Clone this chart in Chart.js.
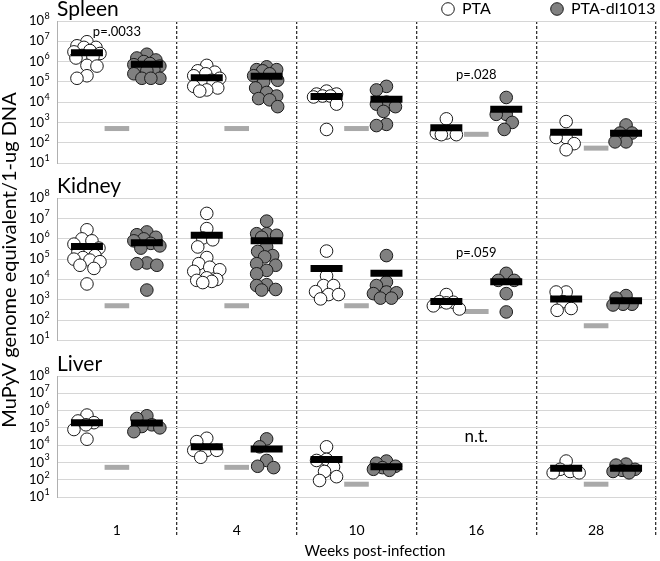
<!DOCTYPE html>
<html><head><meta charset="utf-8">
<script src="https://cdn.jsdelivr.net/npm/chart.js@4.4.0/dist/chart.umd.min.js"></script>
<style>html,body{margin:0;padding:0;background:#fff;}canvas{display:block;}</style>
</head><body>
<canvas id="c" width="660" height="561"></canvas>
<script>
// ---------- data ----------
const weeks = ['1', '4', '10', '16', '28'];
const panelNames = ['Spleen', 'Kidney', 'Liver'];
const seriesNames = ['PTA', 'PTA-dl1013'];
const yTickValues = [1e1, 1e2, 1e3, 1e4, 1e5, 1e6, 1e7, 1e8];

const spleenPTA = [
  [9.5e6, 6e6, 5e6, 5e6, 3.5e6, 3e6, 2.5e6, 2e6, 1.7e6, 1.5e6, 6.5e5, 6e5, 2e5, 1.5e5],
  [6.5e5, 3.5e5, 3e5, 2.5e5, 2e5, 1.5e5, 1.2e5, 1e5, 6e4, 5e4, 4e4, 3.5e4],
  [3.5e4, 2.5e4, 2.5e4, 2e4, 2e4, 1.8e4, 8e3, 4.5e2],
  [1.5e3, 3e2, 2.5e2, 3e2, 2.5e2],
  [1.1e3, 1.8e2, 1.8e2, 9e1, 4.5e1]
];
const spleenDL = [
  [2.3e6, 1.5e6, 1.2e6, 1e6, 8e5, 7e5, 6e5, 5e5, 4e5, 3.5e5, 2.5e5, 1.5e5, 1.5e5, 1.5e5],
  [5.5e5, 4e5, 4e5, 3.5e5, 2.5e5, 2e5, 1.2e5, 1e5, 5e4, 3e4, 2e4, 1.5e4, 1.3e4, 6e3],
  [6e4, 4e4, 1e4, 8e3, 6e3, 3.5e3, 8e2, 7e2],
  [1.7e4, 2.5e3, 2.5e3, 1e3, 4.5e2],
  [7.5e2, 3e2, 3e2, 1.1e2, 1.1e2]
];
const kidneyPTA = [
  [2.8e6, 1e6, 8e5, 5.5e5, 3.5e5, 2.5e5, 2.3e5, 1.5e5, 1.2e5, 1e5, 9e4, 7.5e4, 5e4, 3.5e4, 6e3],
  [1.8e7, 3.2e6, 1.1e6, 9e5, 4e5, 1.2e5, 6e4, 4e4, 3e4, 2.5e4, 1.2e4, 1e4, 9e3, 8e3, 7e3],
  [2.5e5, 1.5e4, 5e3, 5e3, 2.5e3, 1.8e3, 1.8e3, 1.1e3],
  [1.8e3, 8e2, 7.5e2, 7e2, 5e2, 3.5e2],
  [2.4e3, 2.4e3, 8e2, 3.7e2, 3e2]
];
const kidneyDL = [
  [2.2e6, 1.6e6, 1.2e6, 1e6, 8e5, 6e5, 4.5e5, 3.5e5, 6.5e4, 6e4, 5e4, 3e3],
  [7.5e6, 1.8e6, 1.8e6, 1.5e6, 1.2e6, 4e5, 2.4e5, 1.5e5, 1.3e5, 6e4, 5e4, 2.8e4, 1.9e4, 5.5e3, 5e3, 3.2e3, 3e3],
  [1.5e5, 7.5e3, 5e3, 2.4e3, 2.2e3, 2e3, 1.2e3, 1.2e3],
  [2e4, 9e3, 9e3, 2e3, 2.5e2],
  [1.6e3, 1.2e3, 6e2, 6e2, 5.5e2]
];
const liverPTA = [
  [5.5e5, 2.5e5, 2e5, 1.5e5, 8e4, 2.2e4],
  [2.5e4, 1.6e4, 5e3, 5e3, 5e3, 2e3],
  [8e3, 1.5e3, 1.3e3, 5.5e2, 3e2, 1.5e2, 9e1],
  [],
  [1.2e3, 4e2, 3e2, 2.5e2, 2.5e2]
];
const liverDL = [
  [5e5, 3.5e5, 1.5e5, 1.2e5, 1e5, 6e4],
  [2.3e4, 8e3, 1.3e3, 6e2, 5e2],
  [1.2e3, 9e2, 6e2, 5e2, 4e2, 3.5e2],
  [],
  [8e2, 7e2, 4e2, 3.5e2, 3e2, 2.5e2]
];

const spleenMeanPTA = [2.7e6, 1.6e5, 1.9e4, 5.4e2, 3.3e2];
const spleenMeanDL  = [7.4e5, 1.9e5, 1.4e4, 4.5e3, 2.9e2];
const kidneyMeanPTA = [4.2e5, 1.5e6, 3.5e4, 8.1e2, 1.1e3];
const kidneyMeanDL  = [6.4e5, 8.1e5, 2e4, 7.8e3, 9e2];
const liverMeanPTA  = [2e5, 8.1e3, 1.5e3, null, 4.6e2];
const liverMeanDL   = [1.9e5, 6e3, 5.6e2, null, 4.6e2];

const spleenLimit = [5e2, 5e2, 5e2, 2.6e2, 5.4e1];
const kidneyLimit = [5.1e2, 5.1e2, 5.1e2, 2.6e2, 5.2e1];
const liverLimit  = [5.2e2, 5.2e2, 5.5e1, null, 5.5e1];

const noteTexts  = ['p=.0033', 'p=.028', 'p=.059', 'n.t.'];
const notePanels = [0, 0, 1, 2];
const noteWeeks  = [0, 3, 3, 3];
const noteLevels = [2.9e7, 2.3e5, 2.1e5, 3e4];

const yTitle = 'MuPyV genome equivalent/1-ug DNA';
const xTitle = 'Weeks post-infection';

// ---------- build ----------
const FONT = 'Lato, "Open Sans", sans-serif';
Chart.defaults.font.family = FONT;
const panelIds = ['ySpleen', 'yKidney', 'yLiver'];
const ptaSets = [spleenPTA, kidneyPTA, liverPTA];
const dlSets = [spleenDL, kidneyDL, liverDL];
const meanPTA = [spleenMeanPTA, kidneyMeanPTA, liverMeanPTA];
const meanDL = [spleenMeanDL, kidneyMeanDL, liverMeanDL];
const limits = [spleenLimit, kidneyLimit, liverLimit];
const SHIFT = 0.25;

const datasets = [];
panelIds.forEach((id, p) => {
  datasets.push({
    label: 'limit', yAxisID: id, showLine: false, order: 3,
    data: limits[p].map((v, i) => v == null ? null : {x: i + 0.5, y: v}).filter(Boolean),
    pointStyle: 'line', pointRadius: 12.3, pointBorderWidth: 5, pointBorderColor: '#a9a9a9',
    borderColor: '#a9a9a9', pointHoverRadius: 12.3
  });
  [ptaSets, dlSets].forEach((sets, g) => {
    const data = [];
    sets[p].forEach((vals, i) => vals.forEach(v => data.push({x: i + 0.5 + (g ? 1 : -1) * SHIFT, y: v, week: i})));
    datasets.push({
      label: seriesNames[g], yAxisID: id, showLine: false, data, swarm: true, group: g, order: 2,
      pointStyle: 'circle', pointRadius: 6.3, pointHoverRadius: 6.3, pointBorderWidth: 1,
      pointBackgroundColor: g ? '#808080' : '#ffffff', pointBorderColor: '#1a1a1a'
    });
  });
  const mdata = [];
  meanPTA[p].forEach((v, i) => { if (v != null) mdata.push({x: i + 0.5 - SHIFT, y: v}); });
  meanDL[p].forEach((v, i) => { if (v != null) mdata.push({x: i + 0.5 + SHIFT, y: v}); });
  datasets.push({
    label: 'mean', yAxisID: id, showLine: false, data: mdata, order: 1,
    pointStyle: 'line', pointRadius: 16, pointHoverRadius: 16, pointBorderWidth: 7,
    pointBorderColor: '#000', borderColor: '#000'
  });
});

function panelAxis(weight, stackWeight) {
  return {
    type: 'logarithmic', position: 'left', stack: 'panels', stackWeight, weight,
    min: 10, max: 1e8,
    afterBuildTicks: s => { s.ticks = yTickValues.map(v => ({value: v})); },
    afterFit: s => { s.width = 57; },
    ticks: {
      autoSkip: false, color: '#000', padding: 13, font: {size: 13},
      callback: v => '10'
    },
    grid: {color: '#d6d6d6', lineWidth: 1, drawTicks: false},
    border: {display: true, color: '#b0b0b0', width: 1}
  };
}
function spacerAxis(weight, stackWeight) {
  return {
    type: 'linear', position: 'left', stack: 'panels', stackWeight, weight, min: 0, max: 1,
    afterFit: s => { s.width = 57; },
    ticks: {display: false}, grid: {display: false, drawTicks: false}, border: {display: false}
  };
}

const xTickValues = [0, 0.5, 1, 1.5, 2, 2.5, 3, 3.5, 4, 4.5, 5];
const isBoundary = c => c.tick && c.tick.value > 0 && Math.abs(c.tick.value % 1) < 1e-6;

const textPlugin = {
  id: 'texts',
  afterDraw(chart) {
    const ctx = chart.ctx, xs = chart.scales.x;
    ctx.save();
    ctx.fillStyle = '#000';
    // exponents of the y tick labels
    ctx.font = '9px ' + FONT; ctx.textAlign = 'left'; ctx.textBaseline = 'middle';
    panelIds.forEach(id => {
      const s = chart.scales[id];
      s.ticks.forEach(t => ctx.fillText(String(Math.round(Math.log10(t.value))), s.right - 12.5, s.getPixelForValue(t.value) - 5));
    });
    ctx.font = '21px ' + FONT; ctx.textAlign = 'left'; ctx.textBaseline = 'alphabetic';
    panelIds.forEach((id, i) => { const s = chart.scales[id]; ctx.fillText(panelNames[i], s.right, s.top - 5); });
    ctx.textAlign = 'center'; ctx.textBaseline = 'middle';
    noteTexts.forEach((t, i) => {
      ctx.font = (t === 'n.t.' ? '17px ' : '13px ') + FONT;
      ctx.fillText(t, xs.getPixelForValue(noteWeeks[i] + 0.5), chart.scales[panelIds[notePanels[i]]].getPixelForValue(noteLevels[i]));
    });
    ctx.font = '16px ' + FONT; ctx.textAlign = 'left';
    const legX = [448, 557], legFill = ['#ffffff', '#808080'];
    seriesNames.forEach((n, i) => {
      ctx.beginPath(); ctx.arc(legX[i], 9, 6.3, 0, Math.PI * 2);
      ctx.fillStyle = legFill[i]; ctx.fill(); ctx.lineWidth = 1; ctx.strokeStyle = '#1a1a1a'; ctx.stroke();
      ctx.fillStyle = '#000'; ctx.fillText(n, legX[i] + 14, 9);
    });
    ctx.font = '15px ' + FONT; ctx.textAlign = 'center';
    ctx.fillText(xTitle, 375, 551);
    ctx.translate(10, 260); ctx.rotate(-Math.PI / 2);
    ctx.font = '20px ' + FONT;
    ctx.fillText(yTitle, 0, 0);
    ctx.restore();
  }
};

const chart = new Chart(document.getElementById('c'), {
  type: 'scatter',
  data: {datasets},
  options: {
    responsive: false, animation: false, devicePixelRatio: 1,
    layout: {autoPadding: false, padding: {top: 21, right: 4, bottom: 0, left: 0}},
    plugins: {legend: {display: false}, tooltip: {enabled: false}},
    events: [],
    scales: {
      x: {
        type: 'linear', position: 'bottom', min: 0, max: 5,
        afterBuildTicks: s => { s.ticks = xTickValues.map(v => ({value: v})); },
        afterFit: s => { s.height = 64; },
        ticks: {
          autoSkip: false, maxRotation: 0, color: '#000', font: {size: 14}, padding: -13,
          callback: v => (Math.abs(v % 1 - 0.5) < 1e-6) ? weeks[Math.floor(v)] : ''
        },
        grid: {
          drawTicks: true, tickLength: 38, lineWidth: 1.3,
          color: c => isBoundary(c) ? '#333333' : 'rgba(0,0,0,0)',
          tickColor: c => isBoundary(c) ? '#333333' : 'rgba(0,0,0,0)',
          tickBorderDash: [3, 2]
        },
        border: {display: false, dash: [3, 2]}
      },
      ySpleen: panelAxis(6, 142),
      gap1: spacerAxis(5, 35.3),
      yKidney: panelAxis(4, 142),
      gap2: spacerAxis(3, 35.7),
      yLiver: panelAxis(2, 121)
    }
  },
  plugins: [textPlugin]
});

// beeswarm layout of points around each group's centre (computed from values)
function swarm(py, d, maxOff) {
  const order = py.map((_, i) => i).sort((a, b) => py[a] - py[b]);
  const placed = [], offs = new Array(py.length).fill(0);
  order.forEach(i => {
    let chosen = null, bestScore = -1, bestO = 0;
    for (let k = 0; k <= 2 * maxOff; k++) {
      const o = (k % 2 ? -1 : 1) * Math.ceil(k / 2);
      let minD = Infinity;
      for (const p of placed) minD = Math.min(minD, Math.hypot(p.x - o, p.y - py[i]));
      if (minD >= d) { chosen = o; break; }
      if (minD > bestScore) { bestScore = minD; bestO = o; }
    }
    if (chosen === null) chosen = bestO;
    offs[i] = chosen; placed.push({x: chosen, y: py[i]});
  });
  return offs;
}
chart.data.datasets.forEach(ds => {
  if (!ds.swarm) return;
  const ys = chart.scales[ds.yAxisID], xs = chart.scales.x;
  const out = [];
  for (let w = 0; w < weeks.length; w++) {
    const pts = ds.data.filter(d => d.week === w);
    const cx = xs.getPixelForValue(w + 0.5 + (ds.group ? 1 : -1) * SHIFT);
    const offs = swarm(pts.map(d => ys.getPixelForValue(d.y)), 10, 13);
    pts.forEach((d, k) => out.push({x: xs.getValueForPixel(cx + offs[k]), y: d.y, week: w}));
  }
  ds.data = out;
});
chart.update('none');
</script>
</body></html>
